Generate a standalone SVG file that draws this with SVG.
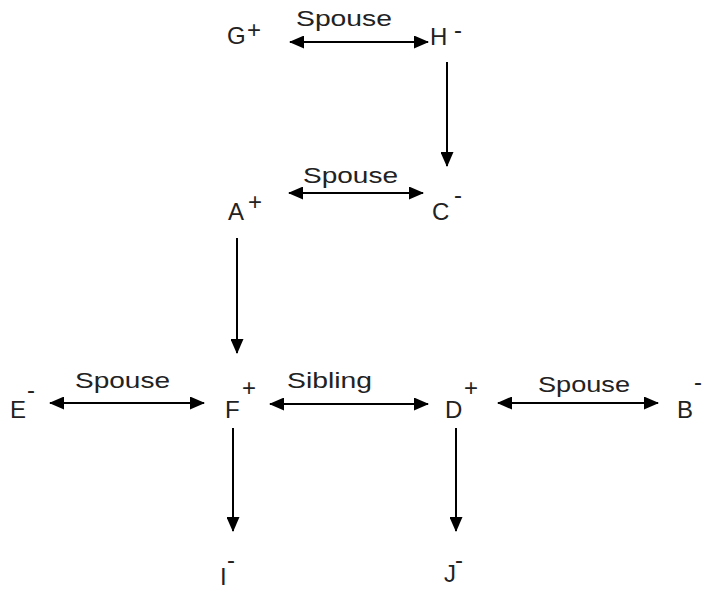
<svg xmlns="http://www.w3.org/2000/svg" width="708" height="590" viewBox="0 0 708 590">
<style>
.n{font-family:"Liberation Sans",Arial,sans-serif;font-size:24px;fill:#222}
.s{font-family:"Liberation Sans",Arial,sans-serif;font-size:24px;fill:#222}
.l{font-family:"Liberation Sans",Arial,sans-serif;font-size:22px;fill:#222}
.c{stroke:#000;stroke-width:2;fill:none;marker-end:url(#ah)}
.b{marker-start:url(#ah)}
</style>
<defs>
<marker id="ah" markerWidth="15" markerHeight="13" refX="14" refY="6.5" orient="auto-start-reverse" markerUnits="userSpaceOnUse">
<path d="M0,0 L15,6.5 L0,13 Z" fill="#000"/>
</marker>
</defs>
<g id="connectors">
<line class="c b" x1="290" y1="42" x2="428" y2="42"/>
<line class="c" x1="447" y1="62" x2="447" y2="166"/>
<line class="c b" x1="289" y1="193" x2="423" y2="193"/>
<line class="c" x1="237" y1="238" x2="237" y2="353"/>
<line class="c b" x1="50" y1="403" x2="204" y2="403"/>
<line class="c b" x1="270" y1="404" x2="428" y2="404"/>
<line class="c b" x1="498" y1="403" x2="658" y2="403"/>
<line class="c" x1="233" y1="428" x2="233" y2="531"/>
<line class="c" x1="456" y1="428" x2="456" y2="531"/>
<text class="l" x="296" y="26" textLength="96" lengthAdjust="spacingAndGlyphs">Spouse</text>
<text class="l" x="303" y="183" textLength="95" lengthAdjust="spacingAndGlyphs">Spouse</text>
<text class="l" x="75" y="388" textLength="95" lengthAdjust="spacingAndGlyphs">Spouse</text>
<text class="l" x="287" y="388" textLength="85" lengthAdjust="spacingAndGlyphs">Sibling</text>
<text class="l" x="538" y="392" textLength="92" lengthAdjust="spacingAndGlyphs">Spouse</text>
</g>
<g id="G"><text class="n" x="227" y="44">G</text><text class="s" x="247" y="38" font-size="18">+</text></g>
<g id="H"><text class="n" x="430" y="45">H</text><text class="s" x="454" y="38">-</text></g>
<g id="A"><text class="n" x="228" y="220">A</text><text class="s" x="248" y="210">+</text></g>
<g id="C"><text class="n" x="432" y="220">C</text><text class="s" x="454" y="203">-</text></g>
<g id="E"><text class="n" x="10" y="418">E</text><text class="s" x="27" y="398">-</text></g>
<g id="F"><text class="n" x="225" y="418">F</text><text class="s" x="242" y="396">+</text></g>
<g id="D"><text class="n" x="445" y="418">D</text><text class="s" x="464" y="396">+</text></g>
<g id="B"><text class="n" x="677" y="418">B</text><text class="s" x="694" y="390">-</text></g>
<g id="I"><text class="n" x="220" y="585">I</text><text class="s" x="227" y="568">-</text></g>
<g id="J"><text class="n" x="444" y="582">J</text><text class="s" x="455" y="568">-</text></g>
</svg>
